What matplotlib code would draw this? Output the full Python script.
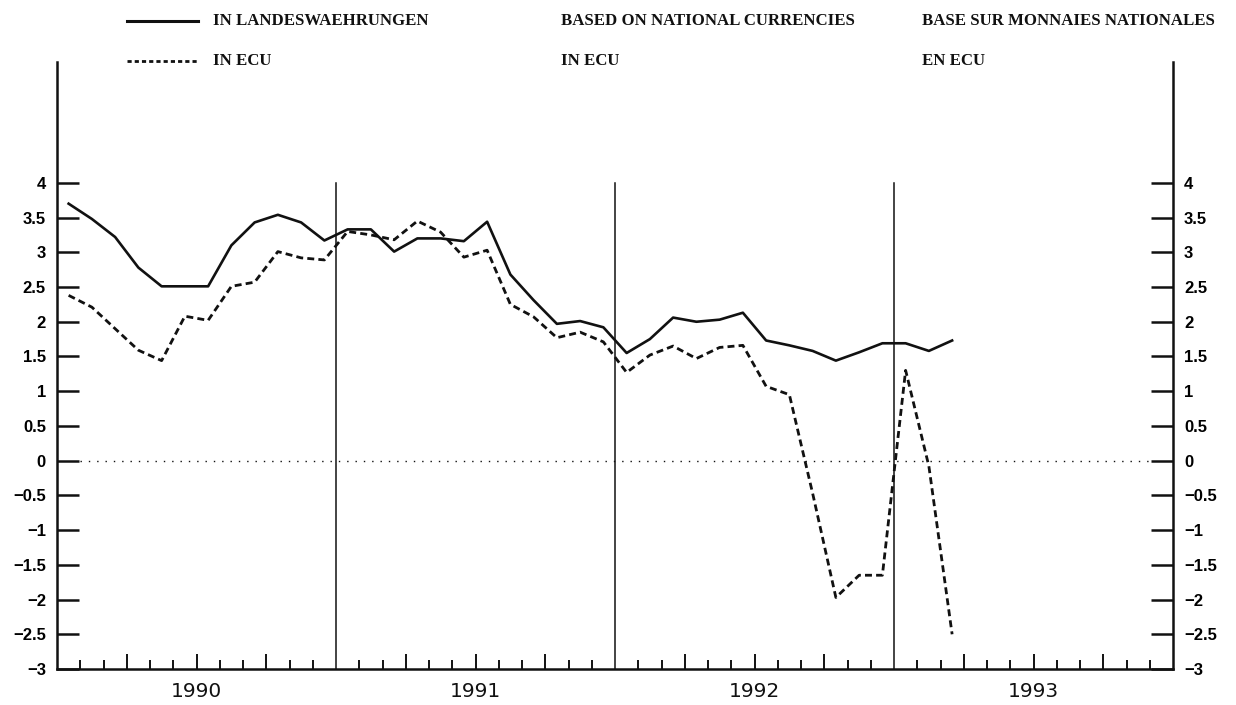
import matplotlib
matplotlib.use('Agg')
import matplotlib.pyplot as plt
from matplotlib.lines import Line2D


# Monthly data, Jan 1990 .. Mar 1993
months = list(range(39))
in_national = [3.70, 3.48, 3.22, 2.78, 2.51, 2.51, 2.51, 3.10, 3.43, 3.54, 3.43, 3.17,
               3.33, 3.33, 3.01, 3.20, 3.20, 3.16, 3.44, 2.68, 2.31, 1.97, 2.01, 1.92,
               1.55, 1.75, 2.06, 2.00, 2.03, 2.13, 1.73, 1.66, 1.58, 1.44, 1.56, 1.69,
               1.69, 1.58, 1.73]
in_ecu = [2.38, 2.21, 1.90, 1.59, 1.44, 2.08, 2.02, 2.51, 2.57, 3.01, 2.92, 2.89,
          3.30, 3.25, 3.18, 3.45, 3.29, 2.93, 3.03, 2.25, 2.07, 1.77, 1.85, 1.71,
          1.27, 1.52, 1.65, 1.47, 1.63, 1.66, 1.07, 0.95, -0.47, -1.97, -1.65, -1.65,
          1.30, -0.08, -2.50]

years = ['1990', '1991', '1992', '1993']
y_ticks = [-3, -2.5, -2, -1.5, -1, -0.5, 0, 0.5, 1, 1.5, 2, 2.5, 3, 3.5, 4]
y_labels = ['\u22123', '\u22122.5', '\u22122', '\u22121.5', '\u22121', '\u22120.5',
            '0', '0.5', '1', '1.5', '2', '2.5', '3', '3.5', '4']

legend_rows = [['IN LANDESWAEHRUNGEN', 'BASED ON NATIONAL CURRENCIES', 'BASE SUR MONNAIES NATIONALES'],
               ['IN ECU', 'IN ECU', 'EN ECU']]

W, H = 1236, 705
INK = '#111111'


def fx(px):
    return px / W


def fy(py):
    return 1 - py / H


fig = plt.figure(figsize=(W / 100, H / 100), dpi=100)
fig.patch.set_facecolor('white')
ax = fig.add_axes([fx(57), fy(669), fx(1173) - fx(57), fy(62) - fy(669)])

x = [m + 0.5 for m in months]
ax.plot(x, in_national, color=INK, lw=1.9)
ax.plot(x, in_ecu, color=INK, lw=2.0, dashes=(2.5, 1.5))

ax.set_xlim(0, 48)
ax.set_ylim(-3, 5.74)

# year separators and zero line
for k in range(1, 4):
    ax.plot([12 * k, 12 * k], [-3, 4], color=INK, lw=1.1)
ax.plot([1, 47], [0, 0], color=INK, lw=1.0, ls=(0, (1, 5)))

for side in ['left', 'right', 'bottom']:
    ax.spines[side].set_linewidth(1.8)
    ax.spines[side].set_color(INK)
ax.spines['top'].set_visible(False)

# y axis, both sides
ax.set_yticks(y_ticks, y_labels)
ax.tick_params(axis='y', direction='in', length=16, width=1.8, color=INK,
               left=True, right=True, labelleft=True, labelright=True, pad=8)
for lab in ax.get_yticklabels():
    lab.set_family('Liberation Sans')
    lab.set_fontweight('bold')
    lab.set_fontsize(12)

# x axis: month ticks, longer at quarters
quarters = [q for q in range(3, 48, 3) if q % 12 != 0]
other_months = [m for m in range(1, 48) if m % 3 != 0]
ax.set_xticks(quarters)
ax.set_xticks(other_months, minor=True)
ax.tick_params(axis='x', which='major', direction='in', length=11, width=1.4,
               color=INK, labelbottom=False)
ax.tick_params(axis='x', which='minor', direction='in', length=6.5, width=1.4,
               color=INK)

for k, yr in enumerate(years):
    ax.annotate(yr, (12 * k + 6, -3), xytext=(0, -9.5), textcoords='offset points',
                ha='center', va='top', fontsize=14.5, color=INK,
                family=['Liberation Sans Narrow', 'DejaVu Sans'])

# legend at the top
fig.add_artist(Line2D([fx(127), fx(198)], [fy(21), fy(21)], color=INK, lw=2.2,
                      transform=fig.transFigure))
fig.add_artist(Line2D([fx(127), fx(198)], [fy(61), fy(61)], color=INK, lw=2.0,
                      ls=(0, (1.5, 1.1)), transform=fig.transFigure))
col_x = [213, 561, 922]
row_y = [21, 61]
for r, row in enumerate(legend_rows):
    for c, txt in enumerate(row):
        fig.text(fx(col_x[c]), fy(row_y[r]), txt, ha='left', va='center',
                 fontsize=12.1, fontweight='bold', family='Liberation Serif', color=INK)

fig.savefig('out.png', dpi=100)
